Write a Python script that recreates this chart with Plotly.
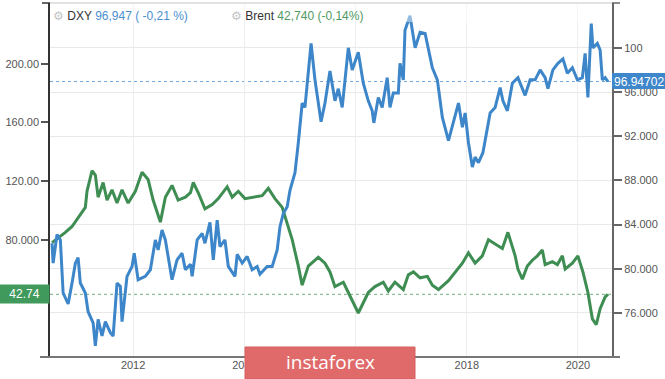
import plotly.graph_objects as go
import pandas as pd

# ---------------- data ----------------
dxy_t = [2010.54, 2010.56, 2010.63, 2010.69, 2010.74, 2010.83, 2010.90, 2010.96, 2011.01, 2011.05,
         2011.14, 2011.19, 2011.28, 2011.32, 2011.37, 2011.44, 2011.50, 2011.59, 2011.64, 2011.71,
         2011.77, 2011.80, 2011.89, 2011.98, 2012.02, 2012.09, 2012.22, 2012.31, 2012.40, 2012.45,
         2012.52, 2012.58, 2012.70, 2012.79, 2012.88, 2012.94, 2013.03, 2013.06, 2013.15, 2013.24,
         2013.29, 2013.38, 2013.44, 2013.51, 2013.56, 2013.65, 2013.71, 2013.83, 2013.87, 2013.96,
         2014.05, 2014.14, 2014.23, 2014.28, 2014.41, 2014.50, 2014.59, 2014.64, 2014.70, 2014.77,
         2014.82, 2014.91, 2014.97, 2015.04, 2015.09, 2015.15, 2015.20, 2015.27, 2015.33, 2015.38,
         2015.45, 2015.54, 2015.63, 2015.69, 2015.76, 2015.81, 2015.87, 2015.94, 2016.05, 2016.14,
         2016.23, 2016.30, 2016.33, 2016.41, 2016.48, 2016.57, 2016.62, 2016.68, 2016.77, 2016.80,
         2016.86, 2016.89, 2016.98, 2017.07, 2017.16, 2017.25, 2017.38, 2017.47, 2017.56, 2017.67,
         2017.76, 2017.85, 2017.92, 2017.97, 2018.03, 2018.10, 2018.15, 2018.21, 2018.29, 2018.37,
         2018.42, 2018.51, 2018.60, 2018.65, 2018.73, 2018.82, 2018.92, 2019.05, 2019.14, 2019.23,
         2019.32, 2019.41, 2019.46, 2019.55, 2019.64, 2019.73, 2019.81, 2019.90, 2019.99, 2020.08,
         2020.13, 2020.18, 2020.24, 2020.27, 2020.35, 2020.40, 2020.44, 2020.49, 2020.54]
dxy_v = [82.3, 80.5, 83.1, 82.6, 77.8, 76.8, 78.7, 80.5, 81.0, 78.7,
         77.8, 76.1, 75.1, 73.0, 75.4, 73.9, 75.2, 74.2, 73.9, 78.7,
         78.4, 75.2, 79.3, 80.2, 81.4, 79.0, 79.3, 79.9, 82.6, 81.7,
         83.5, 82.6, 79.0, 80.8, 81.4, 79.9, 80.4, 79.3, 82.6, 83.2,
         82.3, 84.2, 80.8, 84.4, 82.0, 82.6, 80.2, 79.3, 81.3, 80.5,
         81.1, 79.9, 80.2, 79.5, 80.2, 80.2, 81.7, 83.8, 85.0, 85.6,
         87.1, 88.7, 91.4, 95.0, 94.6, 98.2, 100.4, 97.1, 95.2, 93.3,
         95.0, 97.9, 95.2, 96.3, 94.6, 97.1, 100.0, 98.0, 99.6, 96.8,
         95.2, 94.3, 93.2, 95.5, 94.6, 97.3, 94.6, 95.9, 95.9, 98.6,
         97.1, 101.6, 102.9, 100.0, 101.4, 101.3, 98.2, 97.1, 93.7, 91.6,
         93.4, 95.0, 92.8, 94.1, 91.4, 89.2, 90.1, 89.6, 90.5, 92.8,
         94.1, 94.6, 96.4, 95.2, 94.3, 96.8, 97.3, 95.7, 97.1, 97.1,
         98.0, 97.3, 96.3, 98.0, 98.6, 99.0, 97.7, 98.2, 97.1, 97.3,
         99.5, 95.5, 102.2, 100.0, 100.4, 99.8, 97.1, 97.3, 96.947]

brent_t = [2010.54, 2010.65, 2010.78, 2010.90, 2011.01, 2011.14, 2011.17, 2011.26, 2011.32, 2011.37,
           2011.46, 2011.53, 2011.62, 2011.71, 2011.80, 2011.91, 2012.04, 2012.16, 2012.27, 2012.36,
           2012.49, 2012.58, 2012.70, 2012.81, 2012.94, 2013.03, 2013.08, 2013.17, 2013.29, 2013.42,
           2013.53, 2013.69, 2013.78, 2013.89, 2014.01, 2014.14, 2014.32, 2014.43, 2014.55, 2014.68,
           2014.86, 2014.97, 2015.04, 2015.15, 2015.33, 2015.45, 2015.54, 2015.63, 2015.78, 2015.87,
           2016.05, 2016.23, 2016.35, 2016.50, 2016.59, 2016.71, 2016.86, 2016.95, 2017.04, 2017.16,
           2017.29, 2017.38, 2017.49, 2017.67, 2017.79, 2017.92, 2018.03, 2018.15, 2018.28, 2018.39,
           2018.51, 2018.64, 2018.74, 2018.87, 2018.92, 2019.00, 2019.09, 2019.18, 2019.27, 2019.36,
           2019.41, 2019.54, 2019.63, 2019.72, 2019.77, 2019.90, 2020.00, 2020.09, 2020.18, 2020.26,
           2020.33, 2020.40, 2020.49, 2020.54]
brent_v = [78, 81, 85, 89, 95, 102, 113, 127, 124, 109,
           119, 107, 114, 105, 114, 105, 113, 126, 121, 107,
           92, 109, 117, 107, 109, 112, 119, 112, 101, 104,
           108, 116, 109, 113, 108, 109, 110, 115, 108, 102,
           80, 62, 49, 62, 68, 64, 58, 48, 51, 44,
           30, 44, 48, 51, 45, 51, 46, 56, 58, 54,
           55, 49, 46, 52, 58, 64, 71, 64, 69, 80,
           77, 74, 85, 69, 60, 53, 62, 66, 69, 73,
           63, 65, 63, 69, 60, 64, 69, 58, 44, 26,
           22, 33, 41, 42.74]

left_ticks = [80, 120, 160, 200]
left_labels = ["80.000", "120.00", "160.00", "200.00"]
right_ticks = [76, 80, 84, 88, 92, 96, 100]
right_labels = ["76.000", "80.000", "84.000", "88.000", "92.000", "96.000", "100"]

dxy_last = 96.94702
brent_last = 42.74

# ---------------- helpers ----------------
def to_date(t):
    y = int(t)
    return pd.Timestamp(year=y, month=1, day=1) + pd.Timedelta(days=(t - y) * 365.25)

BLUE = "#3d86c9"
GREEN = "#3e8d52"
FONT = "Liberation Sans"

fig = go.Figure()
fig.add_trace(go.Scatter(x=[to_date(t) for t in brent_t], y=brent_v, mode="lines",
                         line=dict(color=GREEN, width=3), yaxis="y", hoverinfo="skip"))
fig.add_trace(go.Scatter(x=[to_date(t) for t in dxy_t], y=dxy_v, mode="lines",
                         line=dict(color=BLUE, width=3), yaxis="y2", hoverinfo="skip"))

W, H = 665, 379
L, R, T, B = 50, 53, 3, 22
pw, ph = W - L - R, H - T - B

def px_x(p):
    return (p - L) / pw

def px_y(p):
    return (H - B - p) / ph

shapes = [
    # level lines
    dict(type="line", xref="paper", x0=0, x1=1, yref="y2", y0=dxy_last, y1=dxy_last,
         line=dict(color="#6fa8dc", width=1, dash="dot"), layer="below"),
    dict(type="line", xref="paper", x0=0, x1=1, yref="y", y0=brent_last, y1=brent_last,
         line=dict(color="#6fb082", width=1, dash="dot"), layer="below"),
    # faded header band
    dict(type="rect", xref="paper", yref="paper", x0=0, x1=1, y0=px_y(22), y1=1,
         fillcolor="rgba(255,255,255,0.45)", line=dict(width=0), layer="above"),
    # top border
    dict(type="line", xref="paper", yref="paper", x0=0, x1=1, y0=1, y1=1,
         line=dict(color="#d8d8d8", width=1.5), layer="above"),
    # extended bottom axis
    dict(type="line", xref="paper", yref="paper", x0=px_x(40), x1=px_x(620), y0=0, y1=0,
         line=dict(color="#777777", width=2), layer="above"),
    # little caps at the top of the y axes
    dict(type="line", xref="paper", yref="paper", x0=px_x(42), x1=px_x(50), y0=1, y1=1,
         line=dict(color="#333333", width=1.5), layer="above"),
    dict(type="line", xref="paper", yref="paper", x0=px_x(612), x1=px_x(620), y0=1, y1=1,
         line=dict(color="#666666", width=1.5), layer="above"),
    # blue last-value box on the right
    dict(type="rect", xref="paper", yref="paper", x0=px_x(612), x1=px_x(665),
         y0=px_y(89), y1=px_y(73), fillcolor="#3f87cb", line=dict(width=0), layer="above"),
    # watermark box
    dict(type="rect", xref="paper", yref="paper", x0=px_x(245), x1=px_x(415),
         y0=px_y(379), y1=px_y(347), fillcolor="#e06a6a",
         line=dict(color="#d65f5f", width=1), layer="above"),
]

annotations = [
    dict(xref="paper", yref="paper", x=px_x(51), y=px_y(16), xanchor="left", yanchor="middle",
         showarrow=False, font=dict(family=FONT, size=12, color="#333333"),
         text="<span style='color:#c4c4c4'>⚙</span> DXY "
              "<span style='color:#4a8fcf'>96,947 ( -0,21 %)</span>"),
    dict(xref="paper", yref="paper", x=px_x(229), y=px_y(16), xanchor="left", yanchor="middle",
         showarrow=False, font=dict(family=FONT, size=12, color="#333333"),
         text="<span style='color:#c4c4c4'>⚙</span> Brent "
              "<span style='color:#4f9a62'>42,740 (-0,14%)</span>"),
    dict(xref="paper", yref="y2", x=px_x(638.5), y=dxy_last, xanchor="center", yanchor="middle",
         showarrow=False, text="96.94702", borderpad=0,
         font=dict(family=FONT, size=12, color="white")),
    dict(xref="paper", yref="y", x=0, y=brent_last, xanchor="right", yanchor="middle",
         showarrow=False, text="42.74", bgcolor="#3f9a5c", borderpad=2, width=45,
         align="center", font=dict(family=FONT, size=12, color="white")),
    dict(xref="paper", yref="paper", x=px_x(330), y=px_y(362), xanchor="center", yanchor="middle",
         showarrow=False, text="instaforex",
         font=dict(family="Open Sans", size=19, color="white")),
]

fig.update_layout(
    width=W, height=H,
    margin=dict(l=L, r=R, t=T, b=B),
    paper_bgcolor="white", plot_bgcolor="white",
    showlegend=False,
    font=dict(family=FONT, size=11, color="#555555"),
    xaxis=dict(type="date", range=["2010-07-04", "2020-08-12"],
               tick0="2012-01-01", dtick="M24", tickformat="%Y",
               showgrid=True, gridcolor="#eeeeee", gridwidth=1,
               showline=False, zeroline=False, ticks="",
               tickfont=dict(family=FONT, size=11, color="#555555")),
    yaxis=dict(range=[0, 241.4], tickvals=left_ticks, ticktext=left_labels,
               showgrid=False, zeroline=False, showline=True, linecolor="#333333", linewidth=1.5,
               ticks="outside", ticklen=7, tickcolor="#555555", tickwidth=1.5,
               tickfont=dict(family=FONT, size=11, color="#555555")),
    yaxis2=dict(range=[72, 104.06], tickvals=right_ticks, ticktext=right_labels,
                overlaying="y", side="right", showgrid=True, gridcolor="#e9e9e9", gridwidth=1,
                zeroline=False, showline=True, linecolor="#666666", linewidth=2,
                ticks="outside", ticklen=8, tickcolor="#666666", tickwidth=1.5,
                tickfont=dict(family=FONT, size=11, color="#555555")),
    shapes=shapes,
    annotations=annotations,
)

fig.write_html("out.html", config={"displayModeBar": False},
               post_script="document.body.style.margin='0';document.body.style.overflow='hidden';")
